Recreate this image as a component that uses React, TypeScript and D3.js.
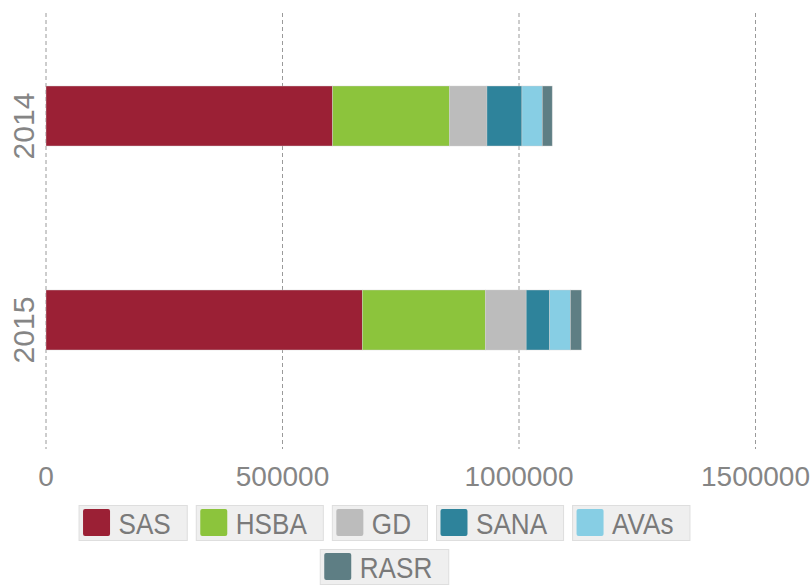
import React from "react";
import * as d3 from "d3";

const years = ["2014", "2015"];
const seriesNames = ["SAS", "HSBA", "GD", "SANA", "AVAs", "RASR"];
const seriesColors = ["#9b2035", "#8cc43c", "#bcbcbc", "#2e839b", "#87cee4", "#5e7e84"];
const sas = [606000, 668700];
const hsba = [247200, 260300];
const gd = [79000, 86200];
const sana = [74000, 49500];
const avas = [43000, 44000];
const rasr = [21000, 23400];
const xTicks = [0, 500000, 1000000, 1500000];

const W = 810;
const H = 586;
const FONT = "'Liberation Sans', Arial, sans-serif";

function measure(text: string, size: number): number {
  const c = document.createElement("canvas").getContext("2d");
  if (!c) return text.length * size * 0.6;
  c.font = `${size}px ${FONT}`;
  return c.measureText(text).width;
}

export default function App() {
  const seriesValues = [sas, hsba, gd, sana, avas, rasr];
  const rows = years.map((y, i) => {
    const r: any = { year: y };
    seriesNames.forEach((s, k) => (r[s] = seriesValues[k][i]));
    return r;
  });
  const stacked = d3.stack().keys(seriesNames)(rows);

  const x = d3.scaleLinear().domain([0, 1500000]).range([46, 755.5]);
  const y = d3
    .scaleBand()
    .domain(years)
    .range([14, 422])
    .paddingInner(0.706)
    .paddingOuter(0.353);

  // legend layout
  const legFont = 29;
  const squeeze = 0.9;
  const items = seriesNames.map((n, i) => {
    const tw = measure(n, legFont) * squeeze;
    return { name: n, color: seriesColors[i], tw, w: 40 + tw + 16 };
  });
  const gap = 9;
  const row1 = items.slice(0, 5);
  const row2 = items.slice(5);
  const center = 384;
  const layoutRow = (arr: any[], top: number) => {
    const total = arr.reduce((a, b) => a + b.w, 0) + gap * (arr.length - 1);
    let cx = center - total / 2;
    return arr.map((it) => {
      const o = { ...it, x: cx, y: top };
      cx += it.w + gap;
      return o;
    });
  };
  const legendItems = [...layoutRow(row1, 505), ...layoutRow(row2, 549)];

  return (
    <svg
      width={W}
      height={H}
      style={{ position: "absolute", left: 0, top: 0, background: "#fff" }}
      fontFamily={FONT}
    >
      {xTicks.map((t) => (
        <line
          key={"g" + t}
          x1={x(t)}
          x2={x(t)}
          y1={13}
          y2={449}
          stroke="#9a9a9a"
          strokeWidth={1}
          strokeDasharray="4,3"
        />
      ))}
      {stacked.map((s, k) => (
        <g key={s.key} fill={seriesColors[k]}>
          {s.map((d: any, i: number) => (
            <rect
              key={i}
              x={x(d[0])}
              y={y(years[i])}
              width={x(d[1]) - x(d[0])}
              height={y.bandwidth()}
              stroke="rgba(210,210,210,0.7)"
              strokeWidth={0.6}
            />
          ))}
        </g>
      ))}
      {xTicks.map((t) => (
        <text
          key={"t" + t}
          x={x(t)}
          y={486}
          textAnchor="middle"
          fontSize={28}
          fill="#858585"
        >
          {String(t)}
        </text>
      ))}
      {years.map((yr) => {
        const cy = (y(yr) as number) + y.bandwidth() / 2 + 10;
        return (
          <text
            key={"y" + yr}
            transform={`translate(33.5,${cy}) rotate(-90)`}
            textAnchor="middle"
            fontSize={30}
            fill="#858585"
          >
            {yr}
          </text>
        );
      })}
      {legendItems.map((it) => (
        <g key={"l" + it.name} transform={`translate(${it.x},${it.y})`}>
          <rect
            x={0.5}
            y={0.5}
            width={it.w}
            height={35}
            fill="#efefef"
            stroke="#dedede"
            strokeWidth={1}
          />
          <rect x={4.5} y={4} width={27} height={27} rx={2} fill={it.color} />
          <text
            x={40}
            y={28.5}
            fontSize={legFont}
            fill="#7a7a7a"
            textLength={it.tw}
            lengthAdjust="spacingAndGlyphs"
          >
            {it.name}
          </text>
        </g>
      ))}
    </svg>
  );
}
